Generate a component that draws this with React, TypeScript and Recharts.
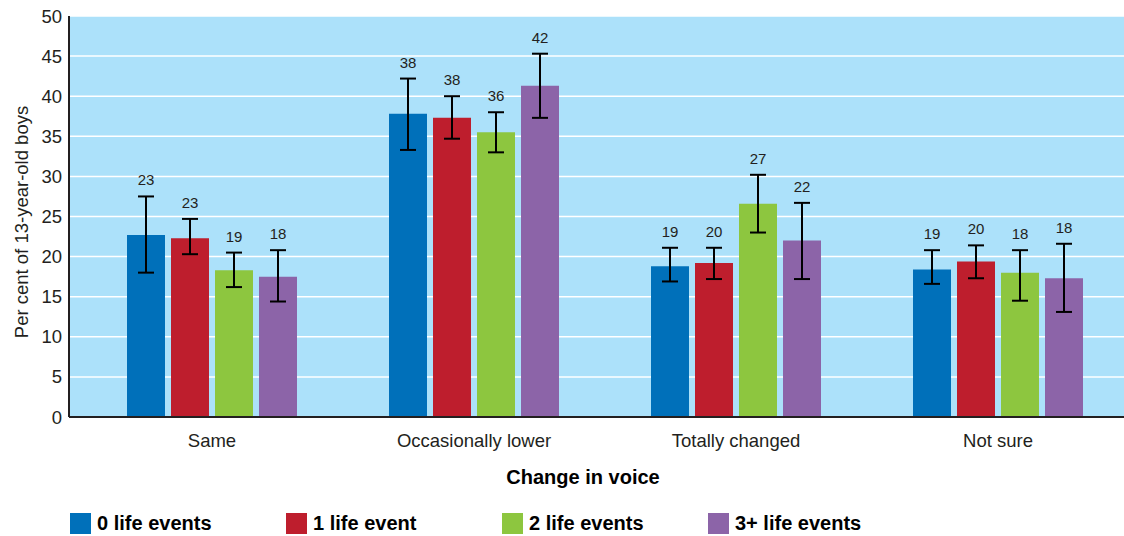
import { BarChart, Bar, XAxis, YAxis, CartesianGrid, ErrorBar, LabelList, Legend, Label } from "recharts";

const categories = ["Same", "Occasionally lower", "Totally changed", "Not sure"];

const seriesNames = ["0 life events", "1 life event", "2 life events", "3+ life events"];
const seriesColors = ["#0070BA", "#BE1E2D", "#8DC63F", "#8C64A8"];

const values = [
  [22.7, 37.8, 18.8, 18.4],
  [22.3, 37.3, 19.2, 19.4],
  [18.3, 35.5, 26.6, 18.0],
  [17.5, 41.3, 22.0, 17.3],
];
const lows = [
  [18.0, 33.3, 16.9, 16.6],
  [20.3, 34.7, 17.2, 17.3],
  [16.2, 33.0, 23.0, 14.5],
  [14.4, 37.3, 17.2, 13.1],
];
const highs = [
  [27.5, 42.2, 21.1, 20.8],
  [24.7, 40.0, 21.1, 21.4],
  [20.5, 38.0, 30.2, 20.8],
  [20.8, 45.3, 26.7, 21.6],
];
const labels = [
  [23, 38, 19, 19],
  [23, 38, 20, 20],
  [19, 36, 27, 18],
  [18, 42, 22, 18],
];
const yTicks = [0, 5, 10, 15, 20, 25, 30, 35, 40, 45, 50];

const data = categories.map((name, i) => {
  const row: Record<string, any> = { name };
  values.forEach((s, k) => {
    row[`v${k}`] = s[i];
    row[`e${k}`] = [s[i] - lows[k][i], highs[k][i] - s[i]];
  });
  return row;
});

const font = "'Liberation Sans', Arial, Helvetica, sans-serif";
const boldFont = "'Liberation Sans Narrow', 'Liberation Sans', Arial, sans-serif";

const makeLabel = (k: number) => (props: any) => {
  const { x, y, width, height, index } = props;
  const v = values[k][index];
  const perUnit = height / v;
  const yHi = y + height - highs[k][index] * perUnit;
  return (
    <text x={x + width / 2} y={yHi - 11} textAnchor="middle" fontSize={15} fill="#231F20" fontFamily={font}>
      {labels[k][index]}
    </text>
  );
};

function LegendBox() {
  return (
    <div style={{ display: "flex", paddingLeft: 70, paddingTop: 4, boxSizing: "border-box", height: 30, alignItems: "center" }}>
      {seriesNames.map((n, k) => (
        <div key={n} style={{ display: "flex", alignItems: "center", width: k === 2 ? 206 : 216 }}>
          <div style={{ width: 21, height: 21, background: seriesColors[k], marginRight: 6 }} />
          <span style={{ fontFamily: boldFont, fontWeight: 700, fontSize: 20, color: "#000" }}>{n}</span>
        </div>
      ))}
    </div>
  );
}

export default function App() {
  return (
    <div style={{ position: "absolute", left: 0, top: 0, width: 1124, height: 536, overflow: "hidden", background: "#fff" }}>
      <BarChart
        width={1129}
        height={536}
        data={data}
        margin={{ top: 16, right: 0, bottom: 0, left: 0 }}
        barGap={6}
        barSize={38}
      >
        <CartesianGrid vertical={false} stroke="#ffffff" strokeWidth={1.5} fill="#ACE1FA" />
        <XAxis
          dataKey="name"
          height={89}
          padding={{ left: 12, right: 0 }}
          tickLine={false}
          tickSize={6}
          tickMargin={11}
          axisLine={{ stroke: "#231F20", strokeWidth: 2 }}
          tick={{ fontSize: 18.5, fill: "#231F20", fontFamily: font }}
        >
          <Label
            content={(p: any) => (
              <text
                x={p.viewBox.x + p.viewBox.width / 2 - 16}
                y={p.viewBox.y + 67}
                textAnchor="middle"
                fontSize={20}
                fontWeight={700}
                fontFamily={boldFont}
                fill="#000"
              >
                Change in voice
              </text>
            )}
          />
        </XAxis>
        <YAxis
          width={69}
          domain={[0, 50]}
          ticks={yTicks}
          interval={0}
          tickLine={false}
          tickSize={0}
          tickMargin={7}
          axisLine={{ stroke: "#231F20", strokeWidth: 2 }}
          tick={{ fontSize: 18.5, fill: "#231F20", fontFamily: font }}
        >
          <Label
            content={() => (
              <text
                x={28}
                y={222}
                transform="rotate(-90 28 222)"
                textAnchor="middle"
                fontSize={18.5}
                fill="#231F20"
                fontFamily={font}
              >
                Per cent of 13-year-old boys
              </text>
            )}
          />
        </YAxis>
        <Legend verticalAlign="bottom" content={() => <LegendBox />} />
        {values.map((_, k) => (
          <Bar key={k} dataKey={`v${k}`} name={seriesNames[k]} fill={seriesColors[k]} isAnimationActive={false}>
            <ErrorBar dataKey={`e${k}`} width={8} strokeWidth={2} stroke="#000" direction="y" />
            <LabelList dataKey={`v${k}`} content={makeLabel(k)} />
          </Bar>
        ))}
      </BarChart>
    </div>
  );
}
